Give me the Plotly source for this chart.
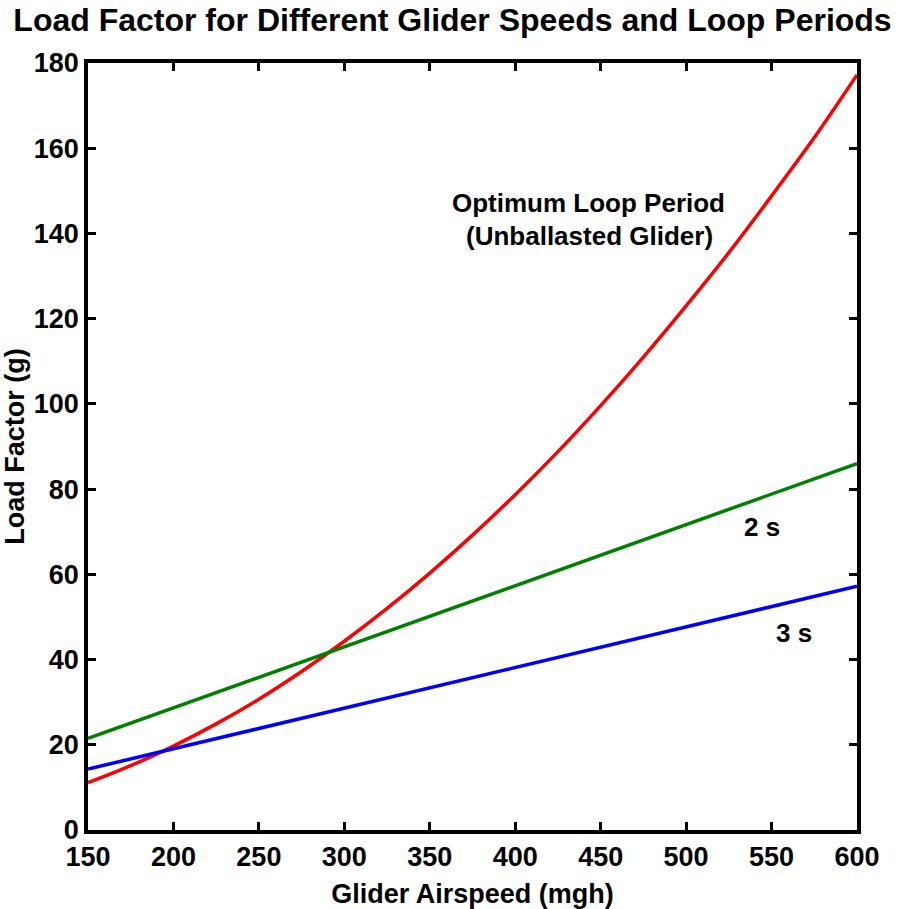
import plotly.graph_objects as go

speed = [150, 175, 200, 225, 250, 275, 300, 325, 350, 375, 400, 425, 450, 475, 500, 525, 550, 575, 600]
optimum = [11.1, 15.1, 19.7, 24.9, 30.7, 37.2, 44.3, 52.0, 60.3, 69.2, 78.7, 88.8, 99.6, 111.0,
           123.0, 135.5, 148.8, 162.5, 177.2]
line_speed = [150, 600]
period_2s = [21.5, 86.0]
period_3s = [14.3, 57.2]

FONT = "Liberation Sans, Arial, sans-serif"

fig = go.Figure()
fig.add_trace(go.Scatter(x=speed, y=optimum, mode="lines", line=dict(color="#ff0000", width=3.5, shape="spline"), showlegend=False))
fig.add_trace(go.Scatter(x=line_speed, y=period_2s, mode="lines", line=dict(color="#008000", width=3.5), showlegend=False))
fig.add_trace(go.Scatter(x=line_speed, y=period_3s, mode="lines", line=dict(color="#0000ff", width=3.5), showlegend=False))

def ann(text, x, y):
    fig.add_annotation(x=x, y=y, text=text, showarrow=False, xref="x", yref="y",
                       font=dict(family=FONT, size=26, color="black", weight="bold"))

ann("Optimum Loop Period", 442.6, 147.1)
ann("(Unballasted Glider)", 443.7, 139.3)
ann("2 s", 544.4, 71.0)
ann("3 s", 563.0, 46.3)

axis_common = dict(showline=True, linecolor="black", linewidth=3.5, mirror="ticks",
                   ticks="inside", ticklen=8, tickwidth=3, tickcolor="black",
                   showgrid=False, zeroline=False, automargin=False,
                   tickfont=dict(family=FONT, size=27, color="black", weight="bold"))

fig.update_xaxes(range=[150, 600], tickvals=list(range(150, 601, 50)),
                 title=dict(text="Glider Airspeed (mgh)", standoff=14,
                            font=dict(family=FONT, size=27, color="black", weight="bold")),
                 **axis_common)
fig.update_yaxes(range=[0, 180], tickvals=list(range(0, 181, 20)),
                 title=dict(text="Load Factor (g)", standoff=8,
                            font=dict(family=FONT, size=27, color="black", weight="bold")),
                 **axis_common)

fig.update_layout(
    width=905, height=909,
    margin=dict(l=88, r=48, t=63, b=79),
    paper_bgcolor="white", plot_bgcolor="white",
    title=dict(text="Load Factor for Different Glider Speeds and Loop Periods",
               x=0.5, xanchor="center", y=0.978, yanchor="middle",
               font=dict(family=FONT, size=32, color="black", weight="bold")),
)

fig.write_html("out.html")
